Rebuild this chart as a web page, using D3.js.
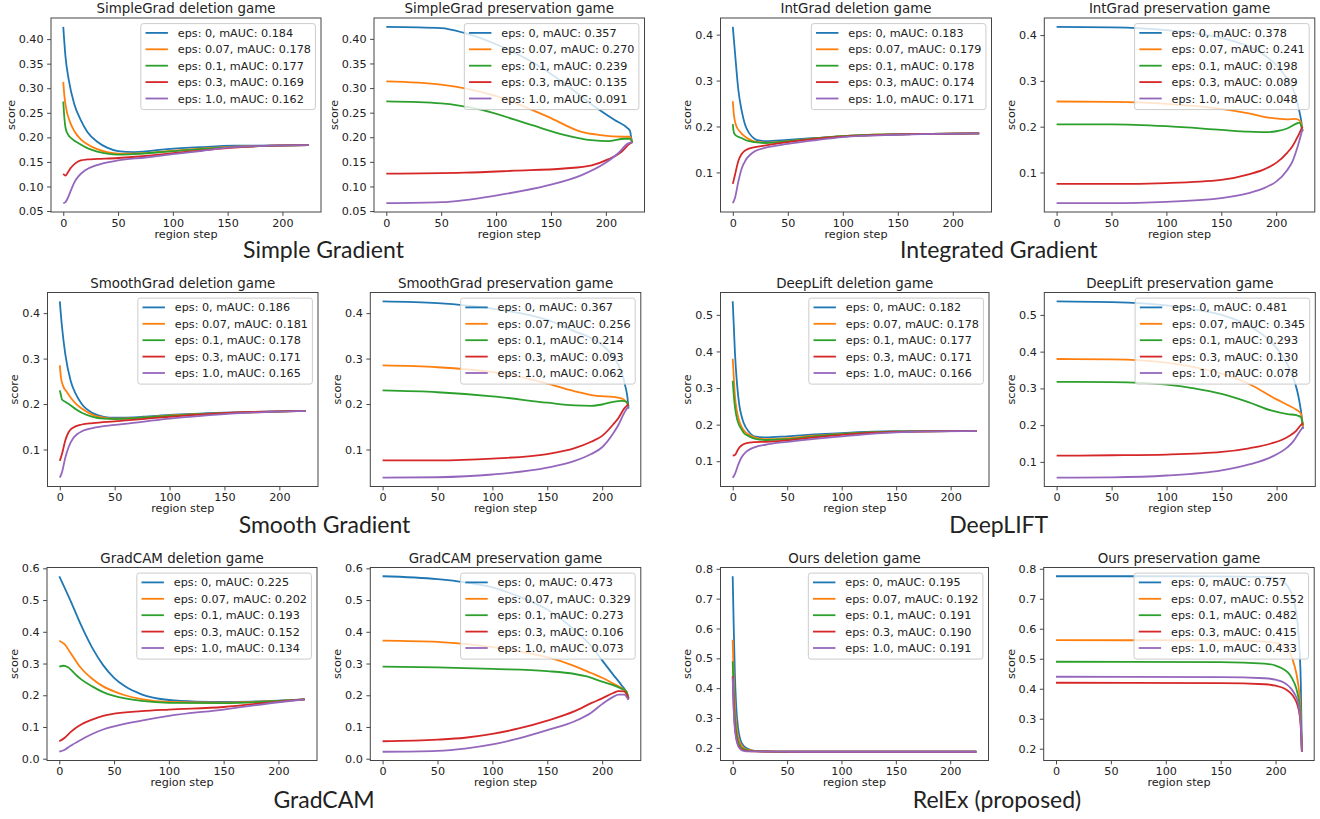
<!DOCTYPE html>
<html><head><meta charset="utf-8">
<script src="https://cdn.jsdelivr.net/npm/d3@7"></script>
<style>
body{margin:0;background:#fff}
svg{display:block}
text{font-family:"DejaVu Sans",sans-serif;fill:#222}
</style>
</head><body>
<svg id="c" width="1320" height="819"></svg>
<script>
// ---------- data ----------
const epsLabels = ["eps: 0", "eps: 0.07", "eps: 0.1", "eps: 0.3", "eps: 1.0"];
const seriesColors = ["#1f77b4", "#ff7f0e", "#2ca02c", "#d62728", "#9467bd"];
const xTickValues = [0, 50, 100, 150, 200];

const panelTitles = [
  "SimpleGrad deletion game", "SimpleGrad preservation game",
  "IntGrad deletion game", "IntGrad preservation game",
  "SmoothGrad deletion game", "SmoothGrad preservation game",
  "DeepLift deletion game", "DeepLift preservation game",
  "GradCAM deletion game", "GradCAM preservation game",
  "Ours deletion game", "Ours preservation game"
];
const groupLabels = ["Simple Gradient", "Integrated Gradient", "Smooth Gradient", "DeepLIFT", "GradCAM", "RelEx (proposed)"];

const mAUC = [
  [0.184, 0.178, 0.177, 0.169, 0.162],
  [0.357, 0.270, 0.239, 0.135, 0.091],
  [0.183, 0.179, 0.178, 0.174, 0.171],
  [0.378, 0.241, 0.198, 0.089, 0.048],
  [0.186, 0.181, 0.178, 0.171, 0.165],
  [0.367, 0.256, 0.214, 0.093, 0.062],
  [0.182, 0.178, 0.177, 0.171, 0.166],
  [0.481, 0.345, 0.293, 0.130, 0.078],
  [0.225, 0.202, 0.193, 0.152, 0.134],
  [0.473, 0.329, 0.273, 0.106, 0.073],
  [0.195, 0.192, 0.191, 0.190, 0.191],
  [0.757, 0.552, 0.482, 0.415, 0.433]
];

const yTickSets = [
  [0.05,0.10,0.15,0.20,0.25,0.30,0.35,0.40],
  [0.05,0.10,0.15,0.20,0.25,0.30,0.35,0.40],
  [0.1,0.2,0.3,0.4], [0.1,0.2,0.3,0.4],
  [0.1,0.2,0.3,0.4], [0.1,0.2,0.3,0.4],
  [0.1,0.2,0.3,0.4,0.5], [0.1,0.2,0.3,0.4,0.5],
  [0.0,0.1,0.2,0.3,0.4,0.5,0.6], [0.0,0.1,0.2,0.3,0.4,0.5,0.6],
  [0.2,0.3,0.4,0.5,0.6,0.7,0.8], [0.2,0.3,0.4,0.5,0.6,0.7,0.8]
];
const yTickFormats = [".2f", ".2f", ".1f", ".1f", ".1f", ".1f", ".1f", ".1f", ".1f", ".1f", ".1f", ".1f"];

// each series: [region step, score] pairs
const simpleGradDeletion = [
  [[0,.425],[2,.365],[5,.317],[10,.268],[16,.235],[22,.211],[31,.191],[40,.179],[50,.172],[65,.170],[95,.176],[125,.180],[156,.183],[224,.184]],
  [[0,.313],[1,.285],[3,.255],[6,.232],[10,.213],[16,.196],[22,.186],[31,.176],[40,.170],[50,.167],[65,.167],[95,.172],[125,.177],[156,.181],[224,.184]],
  [[0,.273],[1,.240],[2,.220],[4,.207],[8,.197],[14,.188],[22,.178],[31,.171],[40,.167],[50,.165],[65,.166],[95,.171],[125,.176],[156,.180],[224,.184]],
  [[0,.126],[2,.122],[4,.128],[7,.138],[11,.147],[16,.153],[22,.155],[31,.156],[50,.158],[75,.162],[100,.168],[125,.173],[156,.179],[190,.183],[224,.184]],
  [[0,.066],[2,.068],[4,.076],[7,.092],[10,.108],[14,.121],[20,.133],[30,.143],[50,.153],[75,.159],[100,.166],[125,.172],[150,.179],[190,.183],[224,.184]]
];
const simpleGradPreservation = [
  [[0,.4245],[50,.422],[71,.412],[101,.388],[132,.354],[162,.310],[190,.262],[208,.235],[220,.218],[222,.213],[223,.200],[224,.188]],
  [[0,.3135],[50,.307],[101,.283],[147,.242],[178,.211],[193,.205],[217,.201],[222,.201],[224,.19]],
  [[0,.273],[50,.269],[86,.256],[132,.225],[162,.205],[187,.194],[202,.192],[217,.197],[222,.197],[224,.19]],
  [[0,.126],[71,.128],[117,.132],[162,.1365],[187,.143],[202,.155],[214,.170],[222,.1875],[224,.19]],
  [[0,.066],[50,.068],[101,.082],[147,.102],[178,.123],[199,.147],[211,.167],[220,.187],[224,.19]]
];
const intGradDeletion = [
  [[0,.417],[2,.36],[5,.28],[8,.235],[11,.205],[15,.185],[20,.173],[25,.169],[30,.168],[50,.171],[75,.175],[100,.179],[150,.183],[224,.185]],
  [[0,.255],[1,.225],[3,.202],[6,.19],[10,.18],[15,.172],[20,.167],[30,.165],[50,.168],[75,.174],[100,.179],[150,.183],[224,.185]],
  [[0,.205],[1,.186],[3,.18],[8,.175],[12,.17],[20,.166],[30,.164],[50,.168],[75,.174],[100,.179],[150,.183],[224,.185]],
  [[0,.075],[2,.095],[5,.125],[8,.14],[12,.149],[20,.155],[30,.159],[50,.166],[75,.173],[100,.178],[150,.183],[224,.185]],
  [[0,.033],[2,.045],[5,.08],[8,.108],[12,.128],[16,.139],[20,.146],[30,.154],[50,.162],[75,.170],[100,.177],[150,.182],[224,.185]]
];
const intGradPreservation = [
  [[0,.418],[50,.417],[100,.411],[125,.404],[150,.394],[175,.375],[190,.355],[200,.335],[210,.305],[215,.285],[219,.255],[221,.235],[223,.21],[224,.19]],
  [[0,.255],[50,.254],[100,.25],[150,.239],[175,.229],[195,.219],[210,.216],[218,.217],[222,.212],[224,.19]],
  [[0,.205],[50,.205],[100,.201],[150,.193],[175,.189],[190,.188],[200,.19],[210,.196],[218,.206],[221,.209],[223,.2],[224,.19]],
  [[0,.075],[50,.075],[100,.077],[150,.084],[175,.096],[190,.108],[200,.121],[210,.143],[215,.158],[220,.18],[224,.2]],
  [[0,.033],[50,.033],[100,.036],[150,.044],[175,.055],[190,.067],[200,.08],[210,.105],[215,.125],[220,.16],[224,.195]]
];
const smoothGradDeletion = [
  [[0,.426],[2,.37],[5,.31],[10,.25],[15,.22],[20,.20],[30,.180],[40,.172],[50,.170],[75,.172],[100,.176],[150,.181],[200,.184],[224,.185]],
  [[0,.285],[1,.26],[3,.24],[6,.228],[10,.214],[15,.2],[20,.19],[30,.176],[40,.17],[50,.168],[75,.17],[100,.175],[150,.18],[224,.185]],
  [[0,.23],[1,.22],[2,.21],[5,.205],[10,.197],[15,.188],[20,.181],[30,.172],[40,.168],[50,.167],[75,.17],[100,.174],[150,.18],[224,.185]],
  [[0,.075],[2,.09],[5,.12],[8,.138],[12,.148],[20,.155],[30,.158],[50,.162],[75,.167],[100,.172],[150,.180],[224,.185]],
  [[0,.038],[2,.05],[5,.082],[8,.105],[12,.124],[16,.134],[20,.14],[30,.147],[50,.154],[75,.161],[100,.168],[150,.178],[224,.185]]
];
const smoothGradPreservation = [
  [[0,.426],[50,.422],[100,.41],[125,.4],[150,.385],[175,.36],[190,.345],[200,.33],[210,.305],[215,.285],[219,.26],[221,.24],[223,.215],[224,.19]],
  [[0,.285],[50,.281],[100,.27],[125,.26],[150,.245],[175,.228],[195,.218],[210,.216],[218,.212],[222,.205],[224,.195]],
  [[0,.23],[50,.226],[100,.217],[150,.203],[175,.197],[190,.196],[200,.199],[210,.205],[218,.207],[222,.205],[224,.195]],
  [[0,.076],[50,.076],[100,.08],[150,.09],[175,.103],[190,.117],[200,.13],[210,.155],[215,.17],[220,.19],[224,.2]],
  [[0,.038],[50,.039],[100,.045],[150,.06],[175,.075],[190,.09],[200,.105],[210,.135],[215,.155],[220,.18],[224,.195]]
];
const deepLiftDeletion = [
  [[0,.537],[1,.47],[2,.40],[4,.31],[6,.255],[8,.225],[10,.205],[15,.18],[20,.168],[30,.165],[50,.168],[75,.173],[100,.177],[150,.182],[224,.183]],
  [[0,.38],[1,.33],[2,.28],[4,.235],[6,.21],[8,.195],[10,.185],[15,.172],[20,.165],[30,.16],[50,.163],[75,.170],[100,.175],[150,.181],[224,.183]],
  [[0,.32],[1,.28],[2,.25],[4,.215],[6,.198],[8,.188],[10,.178],[15,.168],[20,.162],[30,.158],[50,.160],[75,.168],[100,.174],[150,.181],[224,.183]],
  [[0,.115],[2,.117],[5,.133],[8,.143],[12,.149],[20,.152],[30,.153],[50,.157],[75,.165],[100,.172],[150,.180],[224,.183]],
  [[0,.055],[2,.065],[5,.09],[8,.11],[12,.125],[16,.133],[20,.138],[30,.145],[50,.153],[75,.161],[100,.168],[150,.179],[224,.183]]
];
const deepLiftPreservation = [
  [[0,.537],[50,.535],[100,.526],[125,.515],[150,.5],[175,.47],[190,.44],[200,.41],[210,.365],[215,.33],[219,.29],[221,.26],[223,.22],[224,.19]],
  [[0,.38],[50,.379],[100,.37],[125,.358],[150,.34],[175,.312],[200,.27],[210,.255],[218,.242],[222,.232],[224,.195]],
  [[0,.318],[50,.317],[100,.31],[125,.3],[150,.285],[175,.262],[195,.24],[210,.23],[218,.227],[222,.222],[224,.2]],
  [[0,.117],[50,.118],[100,.12],[150,.127],[175,.137],[195,.15],[210,.168],[218,.185],[222,.2],[224,.205]],
  [[0,.057],[50,.058],[100,.063],[150,.077],[175,.093],[195,.113],[210,.14],[215,.155],[220,.178],[224,.195]]
];
const gradCamDeletion = [
  [[0,.575],[10,.50],[20,.42],[30,.35],[40,.295],[50,.255],[60,.228],[75,.203],[100,.185],[125,.18],[150,.179],[175,.18],[200,.183],[224,.187]],
  [[0,.372],[5,.36],[10,.335],[20,.285],[30,.252],[40,.228],[50,.212],[60,.2],[75,.188],[100,.179],[150,.177],[200,.182],[224,.187]],
  [[0,.29],[4,.293],[8,.288],[15,.265],[20,.25],[30,.228],[40,.21],[50,.198],[60,.19],[75,.182],[100,.176],[150,.175],[200,.182],[224,.187]],
  [[0,.055],[5,.066],[10,.083],[15,.097],[20,.108],[30,.123],[40,.135],[50,.142],[75,.150],[100,.155],[150,.163],[200,.180],[224,.187]],
  [[0,.022],[5,.028],[10,.04],[20,.06],[30,.078],[40,.092],[50,.102],[75,.12],[100,.135],[150,.155],[200,.178],[224,.187]]
];
const gradCamPreservation = [
  [[0,.575],[50,.566],[75,.556],[100,.54],[125,.51],[150,.47],[175,.405],[190,.355],[200,.31],[210,.265],[218,.23],[222,.21],[224,.19]],
  [[0,.372],[50,.368],[100,.352],[125,.338],[150,.32],[175,.292],[190,.27],[200,.255],[210,.237],[218,.222],[222,.212],[224,.19]],
  [[0,.29],[50,.288],[100,.283],[150,.276],[175,.267],[185,.26],[200,.243],[210,.232],[218,.22],[222,.212],[224,.19]],
  [[0,.055],[50,.06],[75,.066],[100,.078],[125,.096],[150,.12],[175,.15],[190,.175],[200,.19],[210,.207],[215,.213],[220,.212],[224,.19]],
  [[0,.022],[50,.025],[75,.032],[100,.045],[125,.065],[150,.09],[175,.118],[190,.145],[200,.172],[210,.195],[215,.202],[220,.202],[224,.185]]
];
const oursDeletion = [
  [[0,.775],[1,.6],[2,.45],[3,.355],[5,.265],[7,.228],[10,.207],[15,.195],[20,.19],[30,.188],[50,.187],[224,.187]],
  [[0,.562],[1,.43],[2,.345],[3,.29],[5,.237],[7,.215],[10,.2],[15,.193],[20,.19],[30,.188],[50,.187],[224,.187]],
  [[0,.49],[1,.375],[2,.305],[3,.262],[5,.222],[7,.205],[10,.196],[15,.191],[20,.189],[30,.188],[50,.187],[224,.187]],
  [[0,.44],[1,.33],[2,.272],[3,.24],[5,.21],[7,.198],[10,.192],[15,.189],[20,.188],[50,.187],[224,.187]],
  [[0,.435],[1,.325],[2,.265],[3,.235],[5,.207],[7,.196],[10,.19],[15,.188],[20,.188],[50,.187],[224,.187]]
];
const oursPreservation = [
  [[0,.775],[100,.775],[175,.774],[200,.77],[208,.755],[213,.73],[217,.69],[220,.62],[222,.52],[223,.42],[224,.19]],
  [[0,.562],[150,.561],[190,.557],[200,.553],[208,.54],[213,.52],[217,.48],[220,.43],[222,.37],[223,.31],[224,.19]],
  [[0,.49],[150,.489],[190,.484],[200,.477],[208,.463],[213,.447],[217,.42],[220,.385],[222,.34],[223,.29],[224,.19]],
  [[0,.42],[150,.419],[190,.415],[200,.41],[208,.401],[213,.388],[217,.37],[220,.345],[222,.31],[223,.27],[224,.19]],
  [[0,.44],[150,.439],[190,.435],[200,.43],[208,.42],[213,.405],[217,.385],[220,.36],[222,.32],[223,.28],[224,.19]]
];

const panelSeries = [simpleGradDeletion, simpleGradPreservation, intGradDeletion, intGradPreservation,
  smoothGradDeletion, smoothGradPreservation, deepLiftDeletion, deepLiftPreservation,
  gradCamDeletion, gradCamPreservation, oursDeletion, oursPreservation];

// ---------- layout (positions only) ----------
const frames = [
  [51, 18, 270, 194], [374, 18, 270.5, 194], [720.5, 18, 271, 194], [1044.3, 18, 270.5, 194],
  [47.5, 292.5, 270.5, 194], [370.3, 292.5, 270.5, 194], [720.5, 292.5, 268.5, 194], [1044.3, 292.5, 271, 194],
  [47, 567.5, 270, 193], [370.3, 567.5, 270.5, 193], [720.5, 567.5, 268, 193], [1043.7, 567.5, 270.5, 193]
];
const groupPos = [[323.5, 258], [998.8, 258], [324.5, 533], [998.7, 533], [324, 808], [997, 808]];

const svg = d3.select("#c");
const FS = 11.2;

panelTitles.forEach((title, p) => {
  const [L, T, W, H] = frames[p];
  const series = panelSeries[p];
  const all = series.flat().map(d => d[1]);
  const mn = d3.min(all), mx = d3.max(all), pad = (mx - mn) * 0.05;
  const x = d3.scaleLinear().domain([-11.2, 235.2]).range([L, L + W]);
  const y = d3.scaleLinear().domain([mn - pad, mx + pad]).range([T + H, T]);
  const g = svg.append("g");

  const line = d3.line().x(d => x(d[0])).y(d => y(d[1])).curve(d3.curveMonotoneX);
  series.forEach((s, i) => {
    g.append("path").attr("d", line(s)).attr("fill", "none")
      .attr("stroke", seriesColors[i]).attr("stroke-width", 1.8).attr("stroke-linejoin", "round");
  });

  // axes
  const xAxis = d3.axisBottom(x).tickValues(xTickValues).tickSize(3.9).tickPadding(3.5).tickFormat(d3.format("d"));
  const yAxis = d3.axisLeft(y).tickValues(yTickSets[p]).tickSize(3.9).tickPadding(3.5).tickFormat(d3.format(yTickFormats[p]));
  const gx = g.append("g").attr("transform", `translate(0,${T + H})`).call(xAxis);
  const gy = g.append("g").attr("transform", `translate(${L},0)`).call(yAxis);
  [gx, gy].forEach(a => {
    a.select(".domain").remove();
    a.selectAll("line").attr("stroke", "#333").attr("stroke-width", 0.9);
    a.selectAll("text").style("font-family", '"DejaVu Sans", sans-serif').style("font-size", FS + "px").attr("fill", "#1a1a1a");
  });
  gx.selectAll("text").attr("dy", null).attr("y", 14.5);

  g.append("rect").attr("x", L).attr("y", T).attr("width", W).attr("height", H)
    .attr("fill", "none").attr("stroke", "#444").attr("stroke-width", 1);

  // title & labels
  g.append("text").attr("x", L + W / 2).attr("y", T - 4.7).attr("text-anchor", "middle")
    .style("font-size", "13.4px").text(title);
  g.append("text").attr("x", L + W / 2).attr("y", T + H + 25.5).attr("text-anchor", "middle")
    .style("font-size", FS + "px").text("region step");
  let maxW = 0;
  gy.selectAll("text").each(function () { maxW = Math.max(maxW, this.getComputedTextLength()); });
  const yl = L - 7.4 - maxW - 4;
  g.append("text").attr("transform", `translate(${yl},${T + H / 2}) rotate(-90)`)
    .attr("text-anchor", "middle").style("font-size", FS + "px").text("score");

  // legend
  const lg = g.append("g");
  const labels = epsLabels.map((e, i) => `${e}, mAUC: ${d3.format(".3f")(mAUC[p][i])}`);
  const texts = labels.map((t, i) => lg.append("text").style("font-size", FS + "px").text(t));
  const tw = d3.max(texts, t => t.node().getComputedTextLength());
  const bw = 37 + tw + 4.5, bh = 86;
  const bx = L + W - 5.6 - bw, by = T + 5.6;
  lg.insert("rect", "text").attr("x", bx).attr("y", by).attr("width", bw).attr("height", bh)
    .attr("rx", 2.5).attr("fill", "#fff").attr("fill-opacity", 0.8).attr("stroke", "#ccc").attr("stroke-width", 1);
  texts.forEach((t, i) => {
    const cy = by + 9.3 + i * 16.4;
    t.attr("x", bx + 37).attr("y", cy + 4);
    lg.append("line").attr("x1", bx + 4.7).attr("x2", bx + 27.1).attr("y1", cy).attr("y2", cy)
      .attr("stroke", seriesColors[i]).attr("stroke-width", 1.8);
  });
});

groupLabels.forEach((t, i) => {
  svg.append("text").attr("x", groupPos[i][0]).attr("y", groupPos[i][1]).attr("text-anchor", "middle")
    .style("font-family", "Lato, sans-serif").style("font-size", "23px").attr("fill", "#000").text(t);
});
</script>
</body></html>
